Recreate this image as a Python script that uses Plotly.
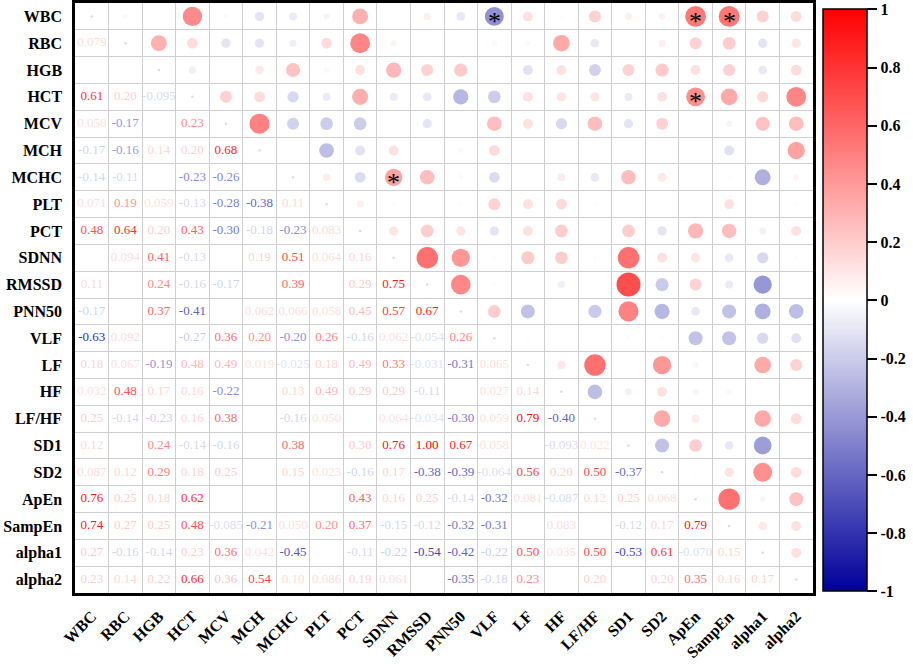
import math
import plotly.graph_objects as go

labels = ["WBC", "RBC", "HGB", "HCT", "MCV", "MCH", "MCHC", "PLT", "PCT", "SDNN", "RMSSD",
          "PNN50", "VLF", "LF", "HF", "LF/HF", "SD1", "SD2", "ApEn", "SampEn", "alpha1", "alpha2"]

# lower triangle: row i holds the values for columns 0..i-1 (None = blank cell)
lower_vals = [
    [],
    [0.079],
    [None, None],
    [0.61, 0.20, -0.095],
    [0.050, -0.17, None, 0.23],
    [-0.17, -0.16, 0.14, 0.20, 0.68],
    [-0.14, -0.11, None, -0.23, -0.26, None],
    [0.071, 0.19, 0.059, -0.13, -0.28, -0.38, 0.11],
    [0.48, 0.64, 0.20, 0.43, -0.30, -0.18, -0.23, 0.083],
    [None, 0.094, 0.41, -0.13, None, 0.19, 0.51, 0.064, 0.16],
    [0.11, None, 0.24, -0.16, -0.17, None, 0.39, None, 0.29, 0.75],
    [-0.17, None, 0.37, -0.41, None, 0.062, 0.066, 0.058, 0.45, 0.57, 0.67],
    [-0.63, 0.092, None, -0.27, 0.36, 0.20, -0.20, 0.26, -0.16, 0.062, -0.054, 0.26],
    [0.18, 0.067, -0.19, 0.48, 0.49, 0.019, -0.025, 0.18, 0.49, 0.33, -0.031, -0.31, 0.065],
    [0.032, 0.48, 0.17, 0.16, -0.22, None, 0.13, 0.49, 0.29, 0.29, -0.11, None, 0.027, 0.14],
    [0.25, -0.14, -0.23, 0.16, 0.38, None, -0.16, 0.050, None, 0.064, -0.034, -0.30, 0.059, 0.79, -0.40],
    [0.12, None, 0.24, -0.14, -0.16, None, 0.38, None, 0.30, 0.76, 1.00, 0.67, 0.058, None, -0.093, 0.022],
    [0.087, 0.12, 0.29, 0.18, 0.25, None, 0.15, 0.023, -0.16, 0.17, -0.38, -0.39, -0.064, 0.56, 0.20, 0.50, -0.37],
    [0.76, 0.25, 0.18, 0.62, None, None, None, None, 0.43, 0.16, 0.25, -0.14, -0.32, 0.081, -0.087, 0.12, 0.25, 0.068],
    [0.74, 0.27, 0.25, 0.48, -0.085, -0.21, 0.050, 0.20, 0.37, -0.15, -0.12, -0.32, -0.31, None, 0.083, None, -0.12, 0.17, 0.79],
    [0.27, -0.16, -0.14, 0.23, 0.36, 0.042, -0.45, None, -0.11, -0.22, -0.54, -0.42, -0.22, 0.50, 0.035, 0.50, -0.53, 0.61, -0.070, 0.15],
    [0.23, 0.14, 0.22, 0.66, 0.36, 0.54, 0.10, 0.086, 0.19, 0.061, None, -0.35, -0.18, 0.23, None, 0.20, None, 0.20, 0.35, 0.16, 0.17],
]

# 1 = significant (solid text), 0 = faded text
lower_sig = [
    [],
    [0],
    [0, 0],
    [1, 0, 0],
    [0, 1, 0, 1],
    [0, 1, 0, 0, 1],
    [0, 0, 0, 1, 1, 0],
    [0, 1, 0, 0, 1, 1, 0],
    [1, 1, 0, 1, 1, 0, 1, 0],
    [0, 0, 1, 0, 0, 0, 1, 0, 0],
    [0, 0, 1, 0, 0, 0, 1, 0, 0, 1],
    [0, 0, 1, 1, 0, 0, 0, 0, 0, 1, 1],
    [1, 0, 0, 0, 1, 1, 1, 1, 0, 0, 0, 1],
    [0, 0, 1, 0, 0, 0, 0, 0, 0, 1, 0, 1, 0],
    [0, 1, 0, 0, 1, 0, 0, 0, 0, 0, 0, 0, 0, 0],
    [0, 0, 0, 0, 1, 0, 0, 0, 0, 0, 0, 1, 0, 1, 1],
    [0, 0, 1, 0, 0, 0, 1, 0, 0, 1, 1, 1, 0, 0, 0, 0],
    [0, 0, 1, 0, 0, 0, 0, 0, 0, 0, 1, 1, 0, 1, 0, 1, 1],
    [1, 0, 0, 1, 0, 0, 0, 0, 1, 0, 0, 0, 1, 0, 0, 0, 0, 0],
    [1, 0, 0, 1, 0, 1, 0, 1, 1, 0, 0, 1, 1, 0, 0, 0, 0, 0, 1],
    [0, 0, 0, 0, 1, 0, 1, 0, 0, 0, 1, 1, 0, 1, 0, 1, 1, 1, 0, 0],
    [0, 0, 0, 1, 0, 1, 0, 0, 0, 0, 0, 1, 0, 1, 0, 0, 0, 0, 1, 0, 0],
]

# upper triangle: row i holds the circle values for columns i+1..21
upper_vals = [
    [0.04, 0, 0.65, 0.03, -0.15, -0.11, -0.06, 0.44, 0, 0.09, -0.13, -0.62, 0.17, 0.02, 0.25, 0.09, 0.08, 0.75, 0.76, 0.25, 0.20],
    [0.44, 0.20, -0.15, -0.15, -0.09, 0.20, 0.68, 0.06, 0, 0, 0.05, 0.04, 0.48, -0.13, 0, 0.09, 0.25, 0.28, -0.15, 0.15],
    [-0.09, 0, 0.13, 0.34, 0.05, 0.17, 0.40, 0.25, 0.30, 0, -0.17, 0.17, -0.25, 0.25, 0.30, 0.17, 0.25, -0.13, 0.20],
    [0.25, 0.20, -0.22, -0.11, 0.45, -0.11, -0.13, -0.40, -0.28, 0.17, 0.15, 0.15, -0.11, 0.17, 0.62, 0.48, 0.22, 0.68],
    [0.70, -0.25, -0.28, -0.28, 0, -0.15, 0, 0.37, 0.17, -0.22, 0.37, -0.15, 0.25, 0, -0.06, 0.34, 0.37],
    [0, -0.37, -0.17, 0.17, 0, 0.04, 0.20, 0.01, 0, 0, 0, 0, 0, -0.17, 0.01, 0.52],
    [0.10, -0.20, 0.52, 0.37, 0.04, -0.20, 0.01, 0.11, -0.13, 0.37, 0.13, 0, -0.02, -0.44, 0.06],
    [0.08, 0.03, 0, 0.02, 0.25, 0.17, 0.20, 0.02, 0, 0.01, 0, 0.17, 0, 0.02],
    [0.15, 0.28, 0.15, -0.15, 0.17, 0.28, 0, 0.28, -0.15, 0.40, 0.37, -0.08, 0.17],
    [0.80, 0.58, 0.03, 0.30, 0.28, 0.02, 0.80, 0.17, 0.15, -0.13, -0.22, 0.03],
    [0.67, 0.02, 0.01, -0.09, 0.01, 1.00, -0.30, 0.25, -0.11, -0.58, 0],
    [0.28, -0.34, 0, -0.30, 0.70, -0.40, -0.13, -0.34, -0.44, -0.37],
    [0.02, 0.01, 0, 0.02, -0.02, -0.34, -0.34, -0.22, -0.17],
    [0.13, 0.80, 0, 0.58, 0.05, 0, 0.48, 0.25],
    [-0.37, -0.08, 0.17, -0.06, 0.05, 0.01, 0],
    [0.01, 0.48, 0.11, 0, 0.48, 0.20],
    [-0.34, 0.28, -0.13, -0.55, 0],
    [0.02, 0.15, 0.62, 0.20],
    [0.80, -0.05, 0.34],
    [0.13, 0.17],
    [0.17],
    [],
]

star_rows = [0, 0, 0, 3, 6]
star_cols = [12, 18, 19, 18, 9]

NEG = (0, 0, 155)
POS = (255, 0, 0)
colorscale = [[0, "rgb(0,0,155)"], [0.5, "rgb(255,255,255)"], [1, "rgb(255,0,0)"]]


def mix(v, alpha=1.0):
    end = POS if v >= 0 else NEG
    t = min(1.0, abs(v))
    r, g, b = [round(255 + (c - 255) * t) for c in end]
    return f"rgba({r},{g},{b},{alpha})"


def fmt(v):
    return f"{v:.3f}" if abs(v) < 0.1 else f"{v:.2f}"


n = len(labels)

# lower triangle text
tx, ty, tt, tc = [], [], [], []
for i, row in enumerate(lower_vals):
    for j, v in enumerate(row):
        if v is None:
            continue
        tx.append(j)
        ty.append(i)
        tt.append(fmt(v))
        strength = min(1.0, 0.25 + 0.9 * abs(v)) * (1 if v >= 0 else -1)
        tc.append(mix(strength, 1.0 if lower_sig[i][j] else 0.45))

# upper triangle circles
cx, cy, cv, cs = [], [], [], []
for i, row in enumerate(upper_vals):
    for k, v in enumerate(row):
        if v == 0:
            continue
        cx.append(i + 1 + k)
        cy.append(i)
        cv.append(v)
        cs.append(24 * math.sqrt(abs(v)))

fig = go.Figure()

fig.add_trace(go.Scatter(
    x=list(range(n)), y=list(range(n)), mode="markers",
    marker=dict(size=2.5, color="#dddddd"), hoverinfo="skip", showlegend=False))

fig.add_trace(go.Scatter(
    x=cx, y=cy, mode="markers",
    marker=dict(size=cs, color=cv, cmin=-1, cmax=1, colorscale=colorscale,
                line=dict(width=0), showscale=True,
                colorbar=dict(x=1.013, xanchor="left", xpad=0, ypad=0,
                              y=0.496, yanchor="middle", len=0.986, thickness=44,
                              outlinecolor="black", outlinewidth=1.5,
                              tickvals=[-1, -0.8, -0.6, -0.4, -0.2, 0, 0.2, 0.4, 0.6, 0.8, 1],
                              ticktext=["-1", "-0.8", "-0.6", "-0.4", "-0.2", "0", "0.2", "0.4", "0.6", "0.8", "1"],
                              ticks="outside", ticklen=10, tickwidth=2, tickcolor="black",
                              tickfont=dict(family="Liberation Serif", size=16, color="black", weight="bold"))),
    showlegend=False))

fig.add_trace(go.Scatter(
    x=tx, y=ty, mode="text", text=tt,
    textfont=dict(family="Liberation Serif", size=13, color=tc),
    showlegend=False))

for r, c in zip(star_rows, star_cols):
    fig.add_annotation(x=c, y=r, text="*", showarrow=False, yshift=-5,
                       font=dict(family="Liberation Serif", size=26, color="black"))

axis_common = dict(
    showgrid=False, zeroline=False, showline=True, mirror=True, automargin=False,
    linecolor="black", linewidth=2.5,
    tickvals=list(range(n)), ticktext=labels, ticks="",
    tickfont=dict(family="Liberation Serif", size=16, color="black", weight="bold"),
    minor=dict(tick0=0.5, dtick=1, showgrid=True, gridcolor="#cfcfcf", gridwidth=1, ticks=""),
)

fig.update_layout(
    width=913, height=667,
    margin=dict(l=75, r=100, t=3, b=74, autoexpand=False),
    paper_bgcolor="white", plot_bgcolor="white",
    hovermode=False,
    xaxis=dict(axis_common, range=[-0.5, n - 0.5], tickangle=-45, ticklabelstandoff=5),
    yaxis=dict(axis_common, range=[n - 0.5, -0.5], ticklabelstandoff=7),
)

fig.write_html("out.html", config={"displayModeBar": False},
               post_script="document.body.style.margin='0';")
